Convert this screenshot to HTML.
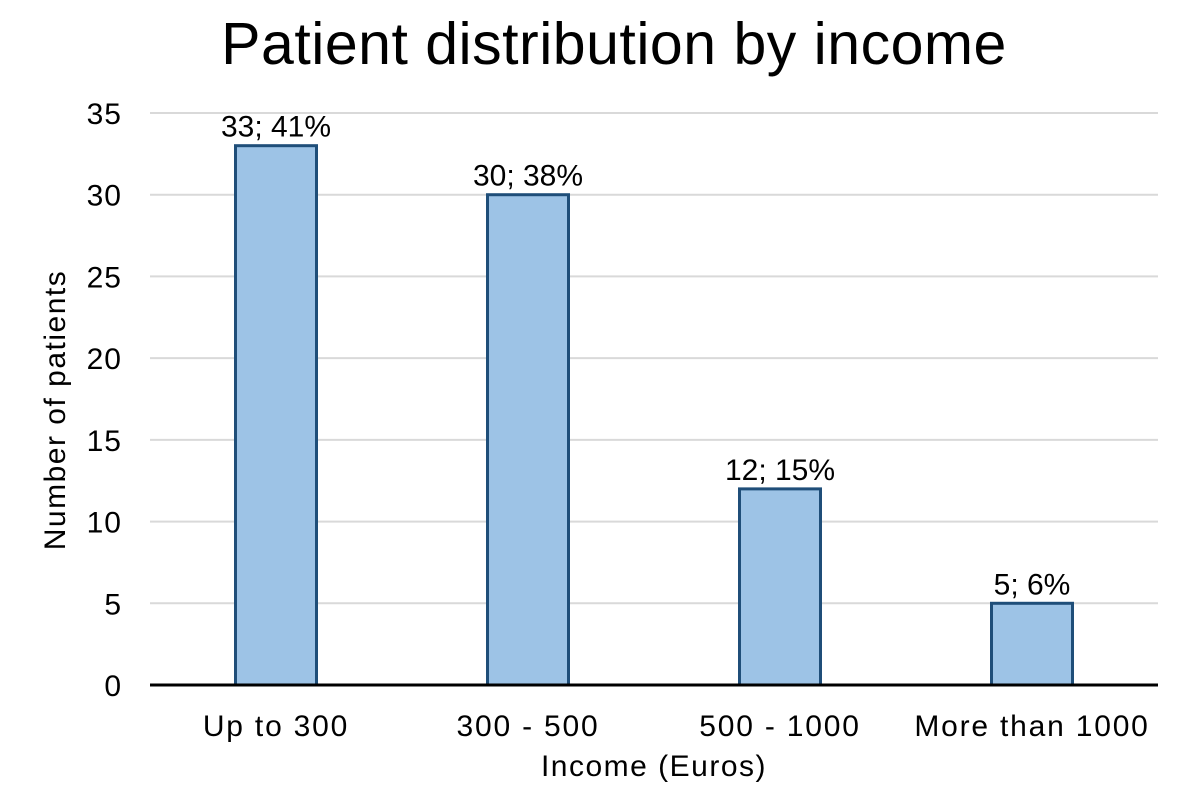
<!DOCTYPE html>
<html><head><meta charset="utf-8"><style>
body{margin:0;background:#fff;}
svg{display:block;font-family:"Liberation Sans",Arial,sans-serif;}
</style></head><body>
<svg id="chart" width="1200" height="800" viewBox="0 0 1200 800">
<rect width="1200" height="800" fill="#fff"/>
<text x="614" y="64" font-size="59" letter-spacing="0.5" text-anchor="middle" fill="#000">Patient distribution by income</text>
<text transform="translate(65,410) rotate(-90)" font-size="30" letter-spacing="1.5" text-anchor="middle" fill="#000">Number of patients</text>
<text x="654" y="776" font-size="30" letter-spacing="1.5" text-anchor="middle" fill="#000">Income (Euros)</text>
<g id="grid"></g><g id="bars"></g><g id="labels"></g>
</svg>
<script>
const categories=["Up to 300","300 - 500","500 - 1000","More than 1000"];
const counts=[33,30,12,5];
const percents=["41%","38%","15%","6%"];
const yTicks=[0,5,10,15,20,25,30,35];
const NS="http://www.w3.org/2000/svg";
const x0=150,x1=1158,y0=685,y1=113,yMax=35;
const yScale=v=>y0-(v/yMax)*(y0-y1);
const band=(x1-x0)/categories.length;
const xCenter=i=>x0+band*(i+0.5);
const bw=81;
function mk(tag,attrs,parent){const e=document.createElementNS(NS,tag);for(const k in attrs)e.setAttribute(k,attrs[k]);parent.appendChild(e);return e;}
const grid=document.getElementById('grid'),bars=document.getElementById('bars'),labels=document.getElementById('labels');
yTicks.forEach(t=>{
  const y=yScale(t);
  if(t>0){const l=mk('line',{x1:x0,x2:x1,y1:y,y2:y,stroke:'#d9d9d9','stroke-width':2},grid);
  
  }
  const tx=mk('text',{x:122,y:y+11,'font-size':30,'letter-spacing':1,'text-anchor':'end',fill:'#000'},grid);
  tx.textContent=t;
  
  
});
categories.forEach((c,i)=>{
  const cx=xCenter(i),top=yScale(counts[i]);
  const r=mk('rect',{x:cx-bw/2,y:top,width:bw,height:y0-top,fill:'#9dc3e6',stroke:'#1f4e79','stroke-width':3},bars);
  
  
  const v=mk('text',{x:cx,y:top-9,'font-size':30,'text-anchor':'middle',fill:'#000'},labels);
  v.textContent=counts[i]+'; '+percents[i];
  
  
  const xl=mk('text',{x:cx,y:736,'font-size':30,'letter-spacing':1.8,'text-anchor':'middle',fill:'#000'},labels);
  xl.textContent=c;
  
  
});
const ax=mk('line',{x1:x0,x2:x1,y1:y0,y2:y0,stroke:'#000','stroke-width':3},labels);


</script>
</body></html>
